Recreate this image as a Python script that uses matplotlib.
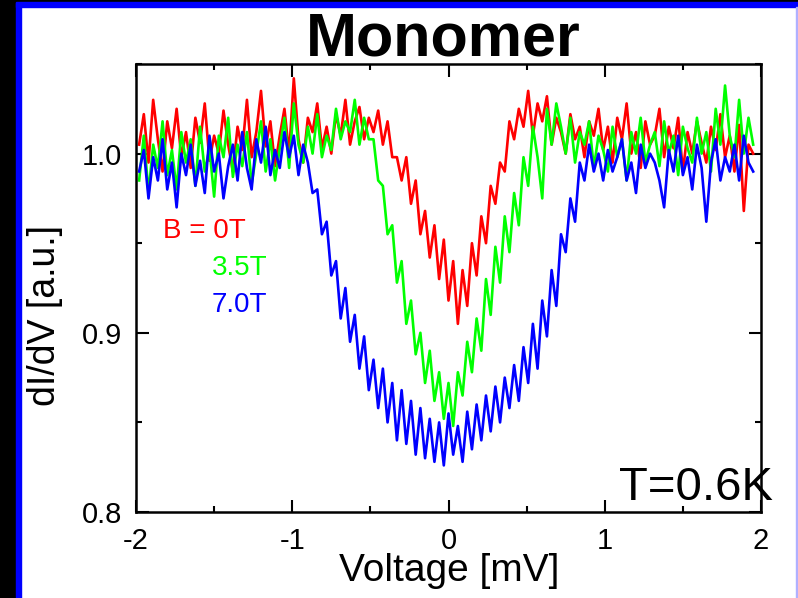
import numpy as np
import matplotlib
matplotlib.use('Agg')
from matplotlib import pyplot as plt
from matplotlib.patches import Rectangle
from matplotlib.ticker import MultipleLocator

plt.rcParams['font.family'] = ['Liberation Sans', 'DejaVu Sans']

red_0T = [
    1.005, 1.022, 0.995, 1.030, 1.008, 0.990, 1.018, 1.003, 1.025, 0.998,
    1.012, 0.992, 1.020, 1.006, 1.028, 0.996, 1.010, 1.000, 1.024, 1.005,
    0.990, 1.015, 1.002, 1.030, 0.998, 1.012, 1.035, 1.004, 1.018, 0.993,
    1.010, 1.025, 1.000, 1.042, 1.008, 0.995, 1.020, 1.012, 1.028, 1.003,
    1.015, 1.000, 1.022, 1.010, 1.030, 1.005, 1.018, 1.026, 1.008, 1.020,
    1.012, 1.024, 1.005, 1.018, 0.998, 0.998, 0.985, 0.998, 0.972, 0.985,
    0.955, 0.968, 0.942, 0.960, 0.930, 0.952, 0.918, 0.940, 0.905, 0.935,
    0.915, 0.950, 0.932, 0.965, 0.950, 0.982, 0.972, 0.995, 0.990, 1.018,
    1.008, 1.025, 1.015, 1.035, 1.010, 1.028, 1.018, 1.032, 1.005, 1.020,
    1.012, 1.000, 1.022, 1.008, 1.015, 0.998, 1.018, 1.010, 1.025, 1.002,
    1.015, 0.995, 1.020, 1.008, 1.028, 1.000, 1.012, 0.992, 1.018, 1.005,
    1.010, 1.025, 0.998, 1.015, 1.003, 1.020, 0.990, 1.012, 1.000, 1.018,
    1.006, 0.995, 1.015, 1.002, 1.022, 0.998, 1.010, 0.990, 1.016, 0.968,
    1.005, 1.000,
]
green_35T = [
    0.985, 1.010, 0.978, 1.005, 0.992, 1.018, 0.988, 1.002, 0.980, 1.012,
    0.995, 1.008, 0.982, 1.015, 0.990, 1.003, 0.976, 1.010, 0.998, 1.020,
    0.987, 1.005, 0.993, 1.012, 0.983, 1.000, 1.018, 0.990, 1.008, 0.985,
    1.003, 1.020, 0.992, 1.028, 1.005, 0.995, 1.015, 1.000, 1.022, 0.998,
    1.010, 1.002, 1.025, 1.008, 1.018, 1.012, 1.030, 1.005, 1.020, 1.008,
    1.008, 0.985, 0.982, 0.955, 0.960, 0.928, 0.940, 0.905, 0.918, 0.888,
    0.900, 0.872, 0.890, 0.862, 0.878, 0.852, 0.872, 0.848, 0.878, 0.865,
    0.895, 0.878, 0.908, 0.890, 0.930, 0.910, 0.948, 0.928, 0.965, 0.945,
    0.978, 0.960, 0.998, 0.982, 1.015, 0.998, 0.975, 1.025, 1.005, 1.028,
    1.015, 1.000, 1.020, 0.995, 1.012, 1.005, 1.018, 0.992, 1.010, 1.002,
    0.990, 1.015, 0.998, 1.008, 0.985, 1.012, 1.000, 1.020, 0.995, 1.005,
    1.012, 0.993, 1.018, 1.000, 1.010, 0.988, 1.015, 1.003, 0.995, 1.020,
    1.000, 1.012, 0.990, 1.025, 1.005, 1.038, 1.010, 0.998, 1.030, 1.000,
    1.020, 1.005,
]
blue_70T = [
    0.990, 1.002, 0.975, 0.998, 0.985, 1.008, 0.980, 0.995, 0.970, 1.000,
    0.988, 1.005, 0.982, 0.996, 0.978, 1.010, 0.990, 1.000, 0.975, 0.993,
    1.005, 0.985, 1.012, 0.992, 0.980, 1.008, 0.995, 1.015, 0.988, 1.002,
    0.992, 1.012, 0.998, 1.010, 0.988, 1.005, 0.995, 0.978, 0.980, 0.955,
    0.962, 0.932, 0.940, 0.908, 0.925, 0.895, 0.910, 0.880, 0.898, 0.868,
    0.885, 0.858, 0.880, 0.850, 0.872, 0.840, 0.868, 0.838, 0.862, 0.832,
    0.858, 0.830, 0.852, 0.828, 0.850, 0.826, 0.855, 0.832, 0.848, 0.828,
    0.856, 0.835, 0.860, 0.840, 0.865, 0.845, 0.870, 0.850, 0.875, 0.858,
    0.882, 0.862, 0.892, 0.872, 0.905, 0.880, 0.918, 0.898, 0.935, 0.915,
    0.955, 0.945, 0.975, 0.962, 0.995, 0.985, 1.005, 0.990, 1.000, 0.985,
    1.002, 0.990, 0.998, 1.008, 0.985, 0.995, 0.978, 1.005, 0.992, 1.000,
    0.995, 0.985, 0.970, 1.002, 0.990, 1.010, 0.988, 0.998, 0.980, 1.005,
    0.992, 0.962, 0.995, 1.008, 0.985, 0.998, 0.990, 1.005, 0.985, 1.010,
    0.995, 0.990,
]
voltage = np.linspace(-1.98, 1.95, len(red_0T))

labels = ['B = 0T', '3.5T', '7.0T']
colors = ['#ff0000', '#00ff00', '#0000ff']

fig = plt.figure(figsize=(7.98, 5.98), dpi=100)

# frame around the slide
W, H = 798.0, 598.0
fig.patches.append(Rectangle((0, 0), 16 / W, 1, transform=fig.transFigure, color='black', zorder=0))
fig.patches.append(Rectangle((16 / W, 0), 5 / W, 1 - 2 / H, transform=fig.transFigure, color='#0000ff', zorder=0))
fig.patches.append(Rectangle((0, 1 - 2 / H), 1, 2 / H, transform=fig.transFigure, color='black', zorder=0))
fig.patches.append(Rectangle((16 / W, 1 - 7 / H), 1, 5 / H, transform=fig.transFigure, color='#0000ff', zorder=0))
fig.patches.append(Rectangle((796 / W, 0), 1.5 / W, 1 - 7 / H, transform=fig.transFigure, color='#b0b0ff', zorder=0))

ax = fig.add_axes([136 / W, 1 - 512 / H, 625 / W, 448 / H])
for y, c in zip([red_0T, green_35T, blue_70T], colors):
  ax.plot(voltage, y, color=c, lw=1.9)

ax.set_xlim(-2, 2)
ax.set_ylim(0.8, 1.05)
ax.xaxis.set_minor_locator(MultipleLocator(0.5))
ax.yaxis.set_minor_locator(MultipleLocator(0.05))
ax.set_xticks([-2, -1, 0, 1, 2])
ax.set_xticklabels(['-2', '-1', '0', '1', '2'])
ax.set_yticks([0.8, 0.9, 1.0])
ax.set_yticklabels(['0.8', '0.9', '1.0'])
ax.tick_params(which='both', direction='in', top=True, right=True, width=1.5, color='black')
ax.tick_params(which='major', length=9, labelsize=21)
ax.tick_params(which='minor', length=4.5)
ax.tick_params(axis='x', pad=11)
ax.tick_params(axis='y', pad=10)
for s in ax.spines.values():
  s.set_linewidth(1.8)

ax.text(0.0432, 0.6116, labels[0], color=colors[0], fontsize=20, transform=ax.transAxes, va='baseline')
ax.text(0.1216, 0.529, labels[1], color=colors[1], fontsize=20, transform=ax.transAxes, va='baseline')
ax.text(0.1216, 0.4464, labels[2], color=colors[2], fontsize=20, transform=ax.transAxes, va='baseline')
ax.text(1.019, 0.027, 'T=0.6K', fontsize=34, transform=ax.transAxes, ha='right', va='baseline', zorder=1)

fig.text(443.5 / W, 1 - 55 / H, 'Monomer', fontsize=44, fontweight='bold', ha='center', va='baseline')
fig.text(449 / W, 1 - 581 / H, 'Voltage [mV]', fontsize=28, ha='center', va='baseline')
fig.text(45 / W, 1 - 316 / H, 'dI/dV [a.u.]', fontsize=27, rotation=90, ha='center', va='center')

fig.savefig('out.png', dpi=100)
